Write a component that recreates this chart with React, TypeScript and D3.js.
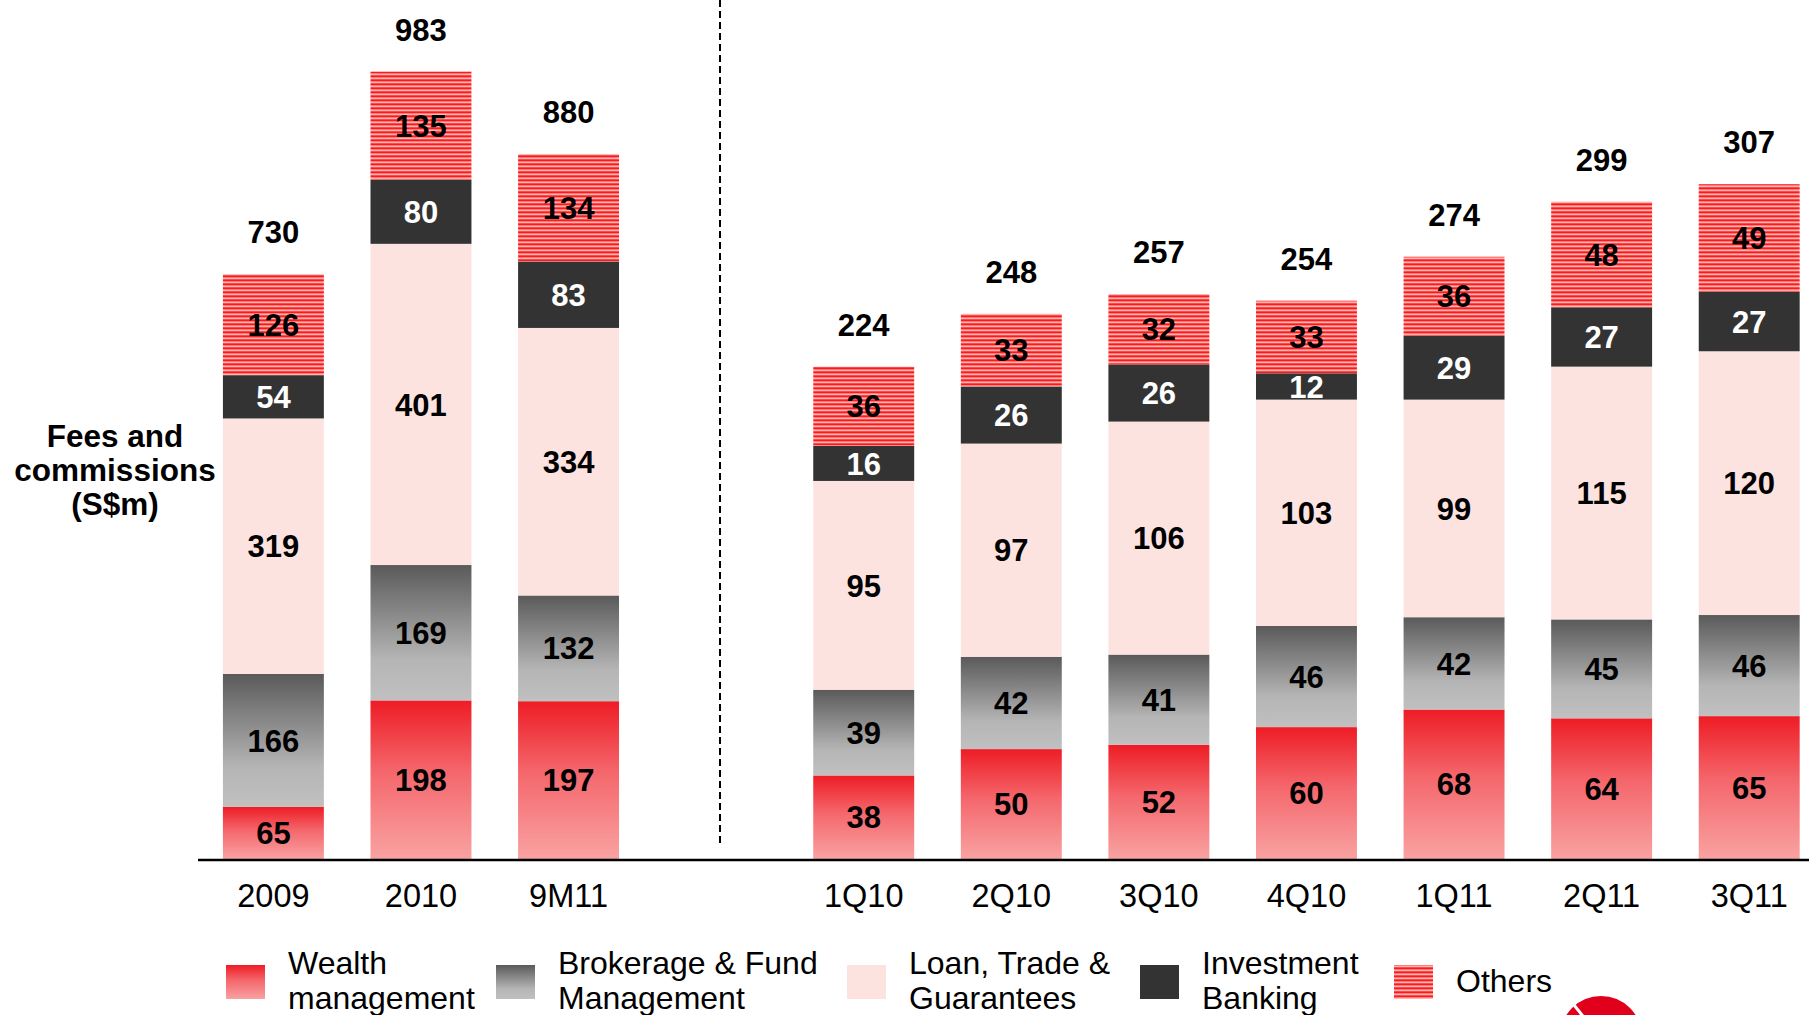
import React from "react";
import * as d3 from "d3";

const annualCats = ["2009", "2010", "9M11"];
const quarterCats = ["1Q10", "2Q10", "3Q10", "4Q10", "1Q11", "2Q11", "3Q11"];

const seriesNames = [
  "Wealth management",
  "Brokerage & Fund Management",
  "Loan, Trade & Guarantees",
  "Investment Banking",
  "Others",
];

const wealthAnnual = [65, 198, 197];
const brokerageAnnual = [166, 169, 132];
const loanAnnual = [319, 401, 334];
const ibAnnual = [54, 80, 83];
const othersAnnual = [126, 135, 134];
const totalAnnual = [730, 983, 880];

const wealthQ = [38, 50, 52, 60, 68, 64, 65];
const brokerageQ = [39, 42, 41, 46, 42, 45, 46];
const loanQ = [95, 97, 106, 103, 99, 115, 120];
const ibQ = [16, 26, 26, 12, 29, 27, 27];
const othersQ = [36, 33, 32, 33, 36, 48, 49];
const totalQ = [224, 248, 257, 254, 274, 299, 307];

const legendLines = [
  ["Wealth", "management"],
  ["Brokerage & Fund", "Management"],
  ["Loan, Trade &", "Guarantees"],
  ["Investment", "Banking"],
  ["Others"],
];

const FONT = "'Liberation Sans', Arial, sans-serif";
const fills = ["url(#gWealth)", "url(#gBrok)", "#fde3e0", "#333333", "url(#pOthers)"];
const labelColors = ["#000", "#000", "#000", "#fff", "#000"];

export default function App() {
  const W = 1809, H = 1015;
  const baseY = 859;
  const x = d3
    .scaleBand<string>()
    .domain([...annualCats, "gap", ...quarterCats])
    .range([199.6, 1823])
    .paddingInner(0.316)
    .paddingOuter(0.158);
  const yA = d3.scaleLinear().domain([0, 1000]).range([baseY, baseY - 801]);
  const yQ = d3.scaleLinear().domain([0, 320]).range([baseY, baseY - 320 * 2.198]);

  const groups = [
    { cats: annualCats, data: [wealthAnnual, brokerageAnnual, loanAnnual, ibAnnual, othersAnnual], totals: totalAnnual, y: yA },
    { cats: quarterCats, data: [wealthQ, brokerageQ, loanQ, ibQ, othersQ], totals: totalQ, y: yQ },
  ];

  const bars: React.ReactNode[] = [];
  groups.forEach((g, gi) => {
    g.cats.forEach((c, ci) => {
      const rows = g.data.map((s) => s[ci]);
      const stack = d3.stack<number[]>().keys(rows.map((_, i) => String(i))).value((d, k) => d[+k])([rows]);
      const x0 = x(c)!;
      const bw = x.bandwidth();
      stack.forEach((layer, li) => {
        const [v0, v1] = layer[0];
        const yTop = g.y(v1), yBot = g.y(v0);
        bars.push(
          <g key={`${gi}-${ci}-${li}`}>
            <rect x={x0} y={yTop} width={bw} height={yBot - yTop} fill={fills[li]} />
            <text
              x={x0 + bw / 2}
              y={(yTop + yBot) / 2}
              dy="0.36em"
              textAnchor="middle"
              fontFamily={FONT}
              fontWeight="bold"
              fontSize={31}
              fill={labelColors[li]}
            >
              {rows[li]}
            </text>
          </g>
        );
      });
      const top = g.y(d3.sum(rows));
      bars.push(
        <text key={`t-${gi}-${ci}`} x={x0 + bw / 2} y={top - 42} dy="0.36em" textAnchor="middle" fontFamily={FONT} fontWeight="bold" fontSize={31} fill="#000">
          {g.totals[ci]}
        </text>
      );
      bars.push(
        <text key={`c-${gi}-${ci}`} x={x0 + bw / 2} y={907} textAnchor="middle" fontFamily={FONT} fontSize={32.5} fill="#000">
          {c}
        </text>
      );
    });
  });

  const legendBoxX = [226, 496, 847, 1140, 1394];
  const legendTextX = [288, 558, 909, 1202, 1456];

  return (
    <svg width={W} height={H} style={{ position: "absolute", left: 0, top: 0, background: "#fff" }}>
      <defs>
        <linearGradient id="gWealth" x1="0" y1="0" x2="0" y2="1">
          <stop offset="0" stopColor="#ee1c25" />
          <stop offset="0.45" stopColor="#f4676c" />
          <stop offset="1" stopColor="#f9a2a2" />
        </linearGradient>
        <linearGradient id="gBrok" x1="0" y1="0" x2="0" y2="1">
          <stop offset="0" stopColor="#5a5a5a" />
          <stop offset="0.7" stopColor="#b5b5b5" />
          <stop offset="1" stopColor="#c0c0c0" />
        </linearGradient>
        <pattern id="pOthers" patternUnits="userSpaceOnUse" width="8" height="4">
          <rect width="8" height="4" fill="#ffd0d0" />
          <rect y="0" width="8" height="1.3" fill="#ff1a1a" />
          <rect y="1.3" width="8" height="1" fill="#ff7070" />
          <rect y="3" width="8" height="1" fill="#ff4a4a" />
        </pattern>
      </defs>

      <line x1={720} y1={0} x2={720} y2={843} stroke="#000" strokeWidth={2} strokeDasharray="7 4" />

      {bars}

      <line x1={198} y1={860} x2={1809} y2={860} stroke="#000" strokeWidth={2.5} />

      <text textAnchor="middle" fontFamily={FONT} fontWeight="bold" fontSize={31.5} fill="#000">
        <tspan x={115} y={447}>Fees and</tspan>
        <tspan x={115} y={481}>commissions</tspan>
        <tspan x={115} y={515}>(S$m)</tspan>
      </text>

      {seriesNames.map((n, i) => (
        <g key={n}>
          <rect x={legendBoxX[i]} y={965} width={39} height={34} fill={fills[i]} />
          <text fontFamily={FONT} fontSize={32} fill="#000">
            {legendLines[i].length === 2 ? (
              <>
                <tspan x={legendTextX[i]} y={974}>{legendLines[i][0]}</tspan>
                <tspan x={legendTextX[i]} y={1009}>{legendLines[i][1]}</tspan>
              </>
            ) : (
              <tspan x={legendTextX[i]} y={992}>{legendLines[i][0]}</tspan>
            )}
          </text>
        </g>
      ))}

      <g>
        <circle cx={1601} cy={1037} r={41} fill="#e0001b" />
        <line x1={1570} y1={1000} x2={1602} y2={1040} stroke="#fff" strokeWidth={3} />
      </g>
    </svg>
  );
}
